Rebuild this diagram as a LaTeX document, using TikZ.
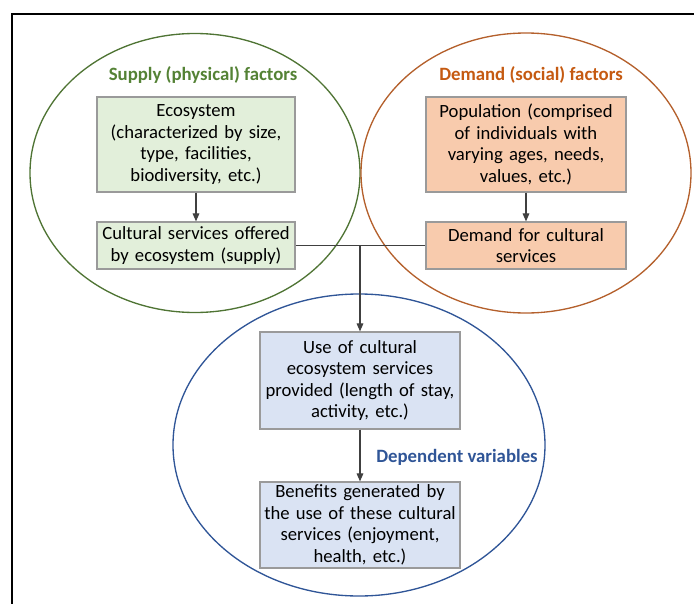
\documentclass[tikz,border=0pt]{standalone}
\usepackage{fontspec}
\setmainfont{Carlito}
\usetikzlibrary{arrows.meta}
\definecolor{sgreen}{HTML}{548235}
\definecolor{egreen}{HTML}{4F7434}
\definecolor{dorange}{HTML}{C55A11}
\definecolor{eorange}{HTML}{B4602C}
\definecolor{dblue}{HTML}{2F5597}
\definecolor{fgreen}{HTML}{E2EFDA}
\definecolor{forange}{HTML}{F8CBAD}
\definecolor{fblue}{HTML}{DAE3F3}
\definecolor{bgray}{HTML}{9A9A9A}
\begin{document}
\begin{tikzpicture}[x=0.75pt,y=-0.75pt,
  box/.style={draw=bgray,line width=0.9pt,align=center,inner xsep=0pt,inner ysep=1pt,
    font=\fontsize{14}{16.1}\selectfont},
  gbox/.style={box,fill=fgreen},
  obox/.style={box,fill=forange},
  bbox/.style={box,fill=fblue},
  title/.style={font=\fontsize{14.1}{16}\selectfont\bfseries},
  conn/.style={draw=black!75,line width=0.8pt},
  arr/.style={conn,-{Triangle[length=6pt,width=5pt]}}]
\useasboundingbox (0,0) rectangle (694,604);
\clip (0,0) rectangle (694,604);
\draw[line width=1.6pt] (12,610) -- (12,14) -- (700,14);
% ellipses
\draw[egreen,line width=1pt] (195,173) ellipse [x radius={165*0.75pt}, y radius={139.5*0.75pt}];
\draw[eorange,line width=1pt] (526,173) ellipse [x radius={165*0.75pt}, y radius={140*0.75pt}];
\draw[dblue,line width=1pt] (359,445) ellipse [x radius={186*0.75pt}, y radius={151*0.75pt}];
% titles
\node[title,text=sgreen] (t1) at (203,75) {Supply (physical) factors};
\node[title,text=dorange] (t2) at (531,75) {Demand (social) factors};
\node[title,text=dblue] (t3) at (457,457) {Dependent variables};
% boxes
\node[gbox,minimum width=148.5pt,minimum height=71.25pt,text width=148.5pt] (eco) at (196,144.5)
  {Ecosystem\\(characterized by size,\\type, facilities,\\biodiversity, etc.)};
\node[gbox,minimum width=148.5pt,minimum height=35.25pt,text width=148.5pt] (sup) at (196,245.5)
  {Cultural services offered\\by ecosystem (supply)};
\node[obox,minimum width=150pt,minimum height=71.25pt,text width=150pt] (pop) at (526,144.5)
  {Population (comprised\\of individuals with\\varying ages, needs,\\values, etc.)};
\node[obox,minimum width=150pt,minimum height=35.25pt,text width=150pt] (dem) at (526,245.5)
  {Demand for cultural\\services};
\node[bbox,minimum width=150pt,minimum height=72.75pt,text width=150pt] (use) at (360,380.5)
  {Use of cultural\\ecosystem services\\provided (length of stay,\\activity, etc.)};
\node[bbox,minimum width=150pt,minimum height=64.5pt,text width=150pt] (ben) at (360,525)
  {Benefits generated by\\the use of these cultural\\services (enjoyment,\\health, etc.)};
% connectors
\draw[arr] (eco) -- (sup);
\draw[arr] (pop) -- (dem);
\coordinate (j) at (use.north |- sup.east);
\draw[conn] (sup.east) -- (dem.west);
\draw[arr] (j) -- (use);
\draw[arr] (use) -- (ben);
\end{tikzpicture}
\end{document}
